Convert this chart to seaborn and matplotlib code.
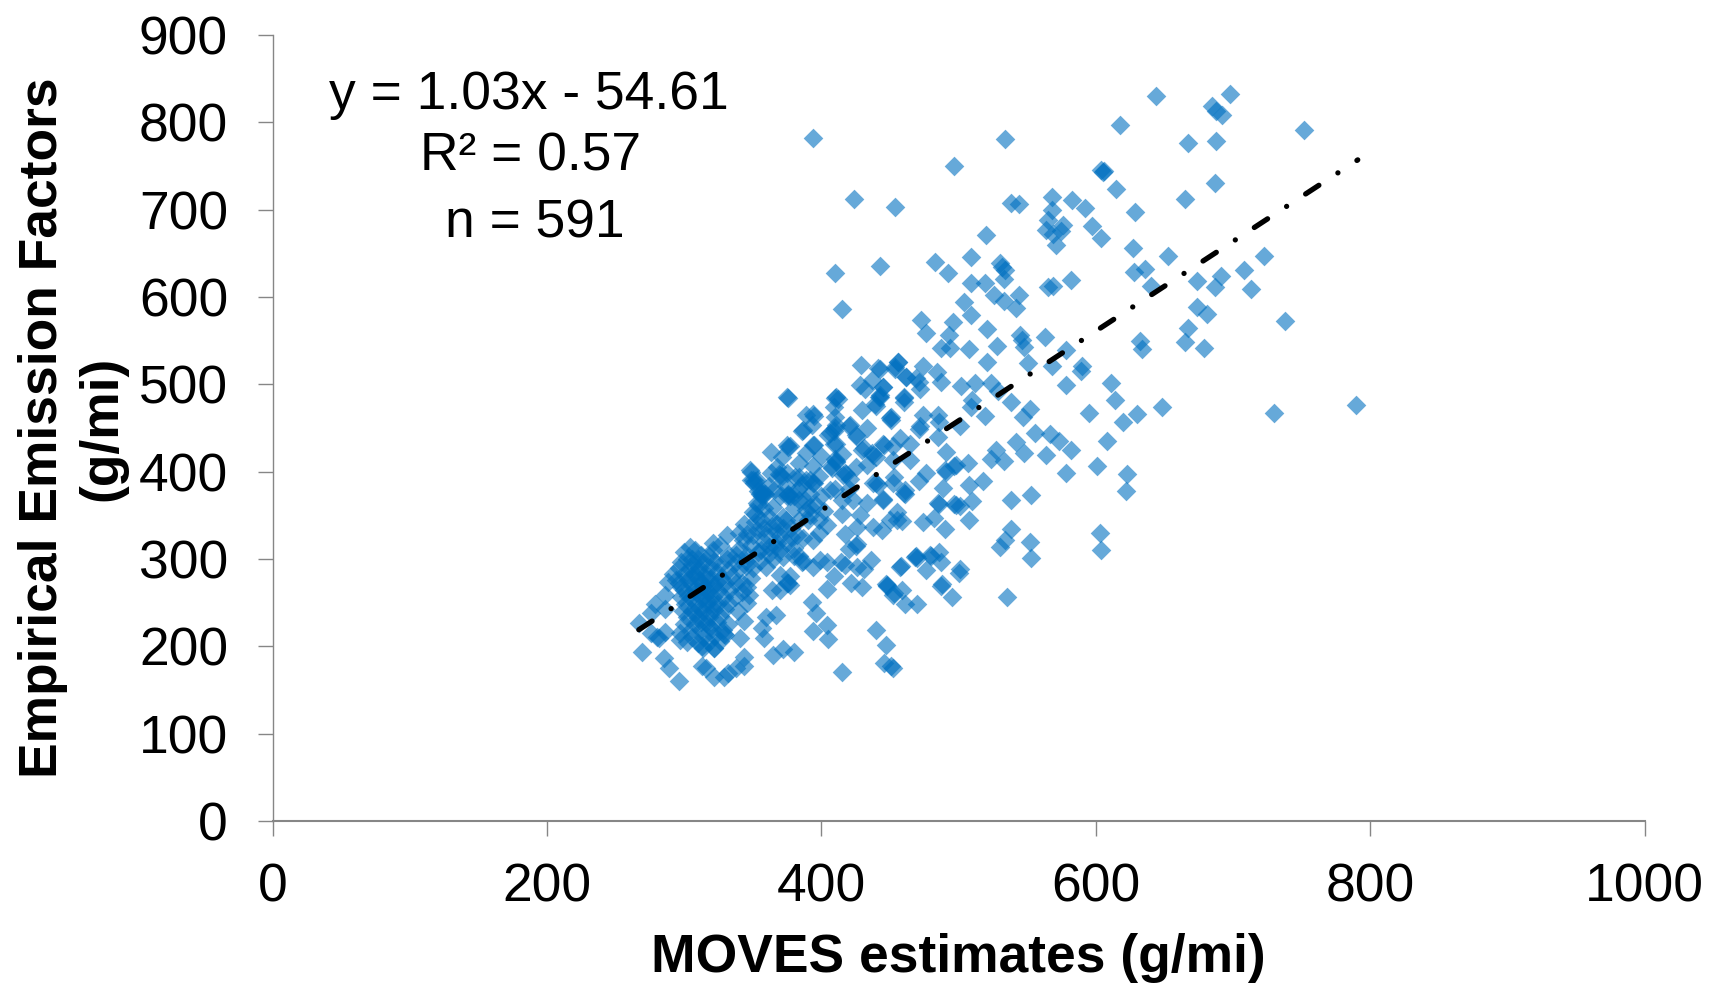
import pandas as pd
import seaborn as sns
import matplotlib.pyplot as plt

# (MOVES, empirical), region by region
upper_points = [
    (644, 830), (698, 832), (685, 819), (688, 813), (692, 808), (618, 797), (752, 791), (667, 776),
    (688, 779), (606, 744), (605, 743), (604, 745), (687, 731), (615, 724), (665, 712), (629, 697),
    (604, 667), (627, 656), (653, 647), (723, 647), (636, 632), (628, 629), (708, 631), (691, 624),
    (687, 612), (674, 618), (713, 609), (640, 613), (674, 589), (681, 581), (738, 572), (667, 564),
    (665, 548), (679, 542), (632, 550), (634, 541), (611, 502), (394, 782), (534, 781), (497, 750),
    (424, 712), (454, 703), (538, 708), (544, 707), (568, 714), (583, 711), (592, 702), (568, 700),
    (565, 688), (576, 683), (564, 677), (569, 672), (575, 676), (597, 681), (571, 660), (520, 671),
    (509, 646), (483, 640), (492, 627), (530, 639), (534, 631), (533, 621), (532, 634), (410, 628),
    (443, 635), (509, 616), (519, 616), (565, 612), (569, 613), (582, 619), (526, 602), (533, 595),
    (544, 602), (542, 587), (504, 594), (415, 586),
]

right_points = [
    (509, 579), (473, 574), (476, 559), (496, 571), (493, 556), (521, 563), (528, 544), (508, 540),
    (487, 542), (494, 542), (545, 556), (546, 551), (548, 543), (563, 554), (578, 539), (521, 526),
    (551, 524), (568, 521), (590, 521), (589, 515), (578, 499), (614, 482), (595, 467), (630, 466),
    (620, 457), (648, 474), (552, 472), (547, 463), (538, 480), (524, 502), (529, 492), (512, 502),
    (502, 498), (510, 482), (509, 474), (519, 464), (484, 514), (487, 503), (471, 503), (469, 507),
    (472, 495), (474, 521), (462, 508), (456, 526), (454, 520), (443, 518), (445, 497), (443, 488),
    (460, 484), (460, 480), (474, 465), (485, 465), (486, 457), (451, 463), (450, 462), (471, 449),
    (501, 452), (485, 440), (556, 444), (567, 443), (573, 435), (542, 434), (548, 421), (582, 425),
    (608, 435), (564, 419), (527, 425), (524, 414), (533, 412), (507, 410), (498, 408), (497, 407),
    (490, 402), (491, 400), (491, 422), (601, 406), (578, 399), (623, 397), (622, 378), (518, 389),
    (508, 385), (489, 381), (538, 368), (553, 373), (510, 366), (497, 363), (498, 362), (501, 361),
    (485, 364), (486, 363), (476, 398), (471, 389), (460, 376), (461, 374), (445, 369), (455, 354),
    (459, 343), (450, 345), (444, 333), (474, 342), (482, 347), (490, 334), (508, 345), (538, 334),
    (534, 322), (530, 314), (552, 320), (553, 301), (603, 330), (604, 310), (535, 257), (458, 292),
    (476, 287), (469, 303), (468, 302), (470, 301), (479, 305), (480, 303), (486, 308), (487, 296),
    (501, 289), (500, 284), (488, 271), (487, 269), (495, 257), (448, 270), (453, 261), (459, 265),
    (461, 248), (470, 248), (730, 467), (790, 476),
]

lower_points = [
    (267, 227), (269, 193), (285, 187), (289, 175), (296, 160), (280, 211), (276, 215), (282, 209),
    (286, 216), (279, 249), (276, 238), (286, 259), (288, 274), (286, 243), (297, 207), (297, 215),
    (313, 177), (316, 175), (322, 165), (329, 165), (332, 169), (338, 175), (344, 188), (344, 177),
    (322, 198), (313, 200), (330, 213), (329, 214), (341, 209), (344, 229), (358, 209), (357, 221),
    (360, 234), (367, 236), (346, 250), (339, 240), (365, 190), (372, 197), (380, 193), (394, 217),
    (404, 224), (405, 208), (396, 238), (393, 251), (415, 171), (440, 219), (447, 202), (446, 181),
    (451, 177), (452, 175), (404, 266), (364, 264), (370, 282), (376, 272), (375, 273), (377, 270),
    (370, 265), (377, 280), (346, 268), (349, 278), (342, 272), (347, 259), (422, 272), (430, 268),
    (447, 271), (448, 269), (452, 259), (426, 317), (425, 315), (436, 299), (426, 291), (417, 293),
    (431, 289), (420, 312), (417, 329), (426, 337), (438, 337), (404, 297), (399, 299), (414, 297),
    (409, 280), (387, 298), (386, 296), (384, 303), (394, 291), (387, 324), (394, 322), (398, 345),
    (404, 339), (389, 356), (457, 291), (455, 345), (445, 368), (433, 364), (423, 368), (415, 368),
]

middle_points = [
    (331, 327), (321, 318), (346, 329), (350, 327), (343, 322), (353, 333), (358, 320), (362, 314),
    (349, 316), (340, 312), (354, 308), (362, 306), (370, 310), (375, 318), (370, 326), (380, 313),
    (346, 305), (338, 305), (355, 298), (345, 298), (365, 300), (372, 302), (380, 303), (350, 290),
    (360, 291), (368, 340), (362, 348), (374, 345), (352, 342), (358, 336), (366, 332), (384, 345),
    (378, 335), (349, 390), (348, 402), (355, 375), (354, 378), (357, 372), (353, 364), (350, 354),
    (363, 423), (377, 429), (376, 428), (371, 417), (386, 446), (394, 431), (384, 410), (363, 398),
    (375, 398), (384, 394), (392, 390), (394, 387), (376, 373), (377, 372), (384, 368), (372, 348),
    (394, 406), (407, 406), (408, 404), (411, 411), (416, 396), (421, 392), (406, 444), (411, 453),
    (409, 432), (426, 440), (420, 452), (433, 450), (430, 425), (438, 419), (437, 421), (445, 432),
    (452, 429), (452, 413), (438, 387), (406, 379), (433, 408), (451, 459), (452, 387), (429, 522),
    (441, 519), (456, 526), (454, 518), (462, 508), (375, 486), (376, 484), (411, 485), (412, 483),
    (410, 484), (409, 474), (428, 499), (437, 505), (445, 497), (432, 495), (443, 486), (442, 485),
    (430, 471), (439, 477), (440, 475), (460, 485), (389, 465), (394, 466), (395, 464),
    (410, 463), (393, 453), (387, 448), (421, 453), (410, 450), (405, 442), (425, 442),
    (409, 446), (411, 432), (395, 430), (375, 430),
    (389, 421), (431, 427), (446, 431), (457, 438),
    (465, 432), (472, 452), (440, 417), (410, 414), (411, 412), (417, 399), (418, 397),
    (349, 400), (352, 389), (351, 387), (353, 390), (350, 391), (370, 396),
    (371, 395), (369, 397), (381, 394), (395, 387), (389, 390), (358, 376), (357, 374), (359, 375),
    (356, 377), (376, 374), (375, 372), (461, 379), (440, 387), (441, 385), (410, 380),
    (453, 394), (465, 413), (400, 372), (392, 360), (402, 355), (415, 352), (428, 350),
    (365, 360), (380, 358), (344, 340), (340, 330), (358, 358), (366, 380), (383, 380), (398, 395),
    (425, 405), (415, 420), (400, 418), (368, 405), (420, 380),
    (352, 352), (356, 345), (388, 368), (392, 375), (396, 362), (360, 328), (364, 338), (368, 318),
    (372, 336), (378, 325), (382, 328), (390, 345), (354, 362), (362, 384), (370, 372), (374, 384),
    (380, 372), (386, 385), (392, 350), (398, 330), (356, 310), (366, 315),
]

cluster_points = [
    (304, 314), (300, 308), (308, 310), (312, 305), (302, 300), (310, 300), (318, 303), (298, 296),
    (306, 294), (314, 296), (322, 298), (296, 290), (304, 288), (311, 290), (319, 291), (326, 293),
    (331, 300), (321, 310), (326, 316), (333, 305), (338, 297), (292, 283), (300, 283), (308, 282),
    (316, 284), (324, 285), (332, 287), (340, 288), (345, 292), (303, 276), (311, 276), (319, 277),
    (327, 278), (335, 280), (296, 272), (306, 270), (314, 269), (322, 270), (330, 272), (338, 272),
    (300, 264), (309, 262), (317, 263), (325, 263), (333, 265), (342, 262), (298, 256), (305, 255),
    (313, 255), (321, 256), (329, 257), (337, 256), (301, 248), (309, 248), (316, 248), (324, 249),
    (332, 250), (299, 241), (306, 240), (314, 241), (322, 242), (330, 243), (302, 234), (310, 233),
    (318, 234), (326, 235), (300, 226), (308, 226), (316, 227), (324, 228), (332, 226), (304, 218),
    (312, 219), (320, 220), (328, 219), (306, 211), (314, 211), (322, 212), (310, 204), (318, 205),
    (326, 206), (314, 198), (322, 198), (302, 205), (307, 265), (315, 258), (311, 244), (319, 238),
    (305, 280), (313, 273), (320, 266), (317, 252), (308, 238), (312, 228), (319, 222), (303, 258),
    (310, 286), (316, 278), (324, 274), (306, 300), (298, 268), (294, 276), (313, 264), (321, 248),
]

trend_x = [267, 791]
trend_y = [219, 757]

x_ticks = [0, 200, 400, 600, 800, 1000]
y_ticks = [0, 100, 200, 300, 400, 500, 600, 700, 800, 900]

all_points = upper_points + right_points + lower_points + middle_points + cluster_points
df = pd.DataFrame(all_points, columns=['moves', 'empirical'])

sns.set_style("white")
plt.rcParams['font.family'] = ['Liberation Sans', 'DejaVu Sans']
plt.rcParams['text.color'] = 'black'
plt.rcParams['axes.labelcolor'] = 'black'

fig = plt.figure(figsize=(17.1, 9.83), dpi=100)
ax = fig.add_axes([272.5 / 1710, 1 - 821 / 983, 1372 / 1710, 786 / 983])

sns.scatterplot(data=df, x='moves', y='empirical', marker='D', color='#0070C0',
                alpha=0.6, s=100, linewidth=0, ax=ax)

ax.plot(trend_x, trend_y, color='black', lw=3.8, dash_capstyle='round',
        linestyle=(0, (3, 4.3, 0.01, 4.3)))

ax.set_xlim(0, 1000)
ax.set_ylim(0, 900)
ax.set_xticks(x_ticks)
ax.set_yticks(y_ticks)
ax.tick_params(axis='both', labelsize=38.4, length=11, width=1, color='#868686', labelcolor='black')
ax.tick_params(axis='x', pad=19, bottom=True)
ax.tick_params(axis='y', pad=21, left=True)

for side in ['top', 'right']:
    ax.spines[side].set_visible(False)
for side in ['left', 'bottom']:
    ax.spines[side].set_color('#868686')
ax.spines['left'].set_linewidth(1)
ax.spines['bottom'].set_linewidth(1.5)

ax.set_xlabel("MOVES estimates (g/mi)", fontsize=38.4, fontweight='bold')
ax.set_ylabel("Empirical Emission Factors\n(g/mi)", fontsize=38.4, fontweight='bold',
              multialignment='center', linespacing=1.22)
ax.xaxis.set_label_coords(0.5, -0.142)
ax.yaxis.set_label_coords(-0.106, 0.5)

ax.text(187, 831, "y = 1.03x - 54.61", fontsize=38.4, ha='center', va='center')
ax.text(188, 761, "R² = 0.57", fontsize=38.4, ha='center', va='center')
ax.text(191, 684, "n = 591", fontsize=38.4, ha='center', va='center')

plt.savefig("out.png", dpi=100)
